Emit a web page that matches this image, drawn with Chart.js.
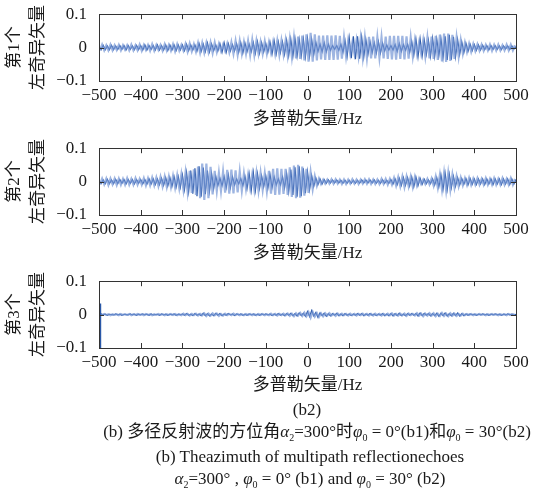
<!DOCTYPE html>
<html>
<head>
<meta charset="utf-8">
<script src="https://cdn.jsdelivr.net/npm/chart.js@4.4.1/dist/chart.umd.min.js"></script>
<style>
  html, body { margin:0; padding:0; background:#fff; }
  body { width:544px; height:494px; position:relative; overflow:hidden;
         font-family:"Liberation Serif","Noto Sans CJK SC",serif; color:#1a1a1a; }
  canvas { position:absolute; left:0; }
  .cap { position:absolute; width:544px; text-align:center; font-size:17px; line-height:20px; white-space:nowrap; }
  .cap i { font-style:italic; }
  .cap sub { font-size:10px; vertical-align:-4px; line-height:0; }
</style>
</head>
<body>
<canvas id="c1" width="544" height="134" style="top:0px"></canvas>
<canvas id="c2" width="544" height="134" style="top:134px"></canvas>
<canvas id="c3" width="544" height="133" style="top:267px"></canvas>
<div class="cap" style="top:400px;left:35px">(b2)</div>
<div class="cap" style="top:422px;left:45px">(b) 多径反射波的方位角<i>α</i><sub>2</sub>=300°时<i>φ</i><sub>0</sub> = 0°(b1)和<i>φ</i><sub>0</sub> = 30°(b2)</div>
<div class="cap" style="top:447px;left:38px">(b) Theazimuth of multipath reflectionechoes</div>
<div class="cap" style="top:469px;left:38px"><i>α</i><sub>2</sub>=300° , <i>φ</i><sub>0</sub> = 0° (b1) and <i>φ</i><sub>0</sub> = 30° (b2)</div>
<script>
// ---- data (values in units of 1e-3), sampled every 5 Hz ----
const FREQ_MIN = -500, FREQ_MAX = 500, FREQ_STEP = 5;
const DARK_START = -500, LIGHT_START = -497.5;
const UNIT = 0.001;
const xTicks = [-500,-400,-300,-200,-100,0,100,200,300,400,500];
const yTicks = [-0.1, 0, 0.1];
const yTitles = [['第1个','左奇异矢量'],['第2个','左奇异矢量'],['第3个','左奇异矢量']];
const xTitle = '多普勒矢量/Hz';

const p1Dark = [
 5,-6,7,-6,5,-6,7,-6,5,-6, 6,-5,6,-7,6,-5,5,-6,7,-6, 6,-7,8,-7,6,-5,6,-7,8,-7,
 6,-7,8,-9,8,-7,8,-9,8,-7, 8,-9,10,-9,8,-7,8,-10,12,-11, 10,-12,14,-13,11,-9,8,-10,12,-14,
 15,-14,12,-10,9,-10,12,-14,15,-16, 14,-12,10,-12,15,-17,18,-17,15,-13, 12,-14,17,-19,20,-19,17,-15,17,-20,
 22,-24,25,-26,27,-26,25,-24,26,-28, 28,-26,24,-20,16,-12,10,-12,14,-12, 10,-8,6,-5,6,-8,10,-14,20,-26,
 30,-32,34,-35,34,-33,31,-28,24,-20, 17,-15,14,-16,18,-16,13,-10,8,-7, 6,-7,9,-11,12,-11,9,-8,10,-14,
 18,-22,26,-28,27,-25,22,-20,22,-26, 28,-27,25,-24,26,-30,34,-37,38,-36, 32,-28,24,-20,17,-15,13,-11,10,-9,
 9,-8,8,-7,7,-6,6,-7,6,-5, 6,-5,5,-6,5,-4,5,-6,5,-4, 3];
const p1Light = [
 -8,9,-8,7,-8,9,-8,7,-7,8, -8,7,-6,7,-8,9,-8,7,-8,9, -9,8,-7,8,-9,10,-9,8,-7,8,
 -9,10,-9,8,-9,10,-11,10,-9,8, -9,11,-12,12,-11,10,-12,14,-15,14, -15,14,-13,15,-16,15,-13,11,-10,9,
 -10,12,-14,16,-18,20,-21,20,-18,17, -18,20,-22,23,-22,20,-18,17,-18,19, -18,16,-15,17,-19,21,-22,21,-20,22,
 -24,26,-28,30,-32,33,-34,36,-38,40, -42,44,-42,40,-38,36,-35,36,-37,37, -37,36,-37,37,-36,35,-33,30,-26,22,
 -18,16,-18,22,-26,28,-30,30,-31,32, -32,33,-32,31,-30,31,-32,33,-34,35, -35,35,-36,35,-34,35,-35,34,-33,30,
 -26,22,-18,16,-18,22,-26,30,-32,33, -34,35,-37,39,-41,42,-43,42,-40,38, -34,30,-26,22,-18,15,-13,12,-12,11,
 -10,10,-9,9,-9,8,-8,9,-9,8, -8,9,-8,7,-8,9,-8,9,-8,7];

const p2Dark = [
 5,-6,5,-6,7,-6,5,-6,7,-6, 6,-5,6,-7,6,-5,6,-7,6,-5, 6,-7,6,-7,8,-7,8,-9,8,-9,
 10,-11,12,-13,12,-14,15,-16,15,-17, 20,-24,27,-30,33,-36,40,-44,46,-45, 42,-38,33,-28,24,-20,16,-12,10,-12,
 15,-18,20,-18,14,-10,8,-7,9,-12, 16,-20,24,-27,28,-27,24,-20,17,-15, 17,-20,22,-18,14,-10,8,-10,14,-18,
 24,-30,36,-40,43,-45,46,-44,40,-35, 30,-24,18,-14,11,-9,8,-7,6,-5, 5,-4,5,-4,5,-4,4,-5,4,-5,
 4,-5,4,-5,4,-5,5,-4,5,-4, 5,-4,5,-5,4,-5,6,-5,4,-5, 6,-7,8,-9,10,-11,12,-11,12,-13,
 14,-15,14,-12,10,-8,7,-6,5,-6, 8,-10,12,-16,20,-23,25,-24,22,-18, 16,-14,12,-10,9,-8,9,-10,9,-8,
 8,-9,8,-7,8,-9,8,-7,8,-9, 8,-7,8,-9,8,-7,8,-9,8,-7, 6];
const p2Light = [
 -8,9,-8,9,-10,9,-8,9,-10,9, -9,8,-9,10,-9,8,-9,10,-9,8, -9,10,-11,10,-11,12,-11,12,-13,14,
 -14,15,-16,15,-16,17,-18,19,-20,22, -24,27,-30,32,-34,37,-40,45,-50,54, -55,54,-50,44,-38,32,-28,26,-28,30,
 -33,35,-36,36,-35,34,-32,30,-27,24, -22,20,-20,22,-24,26,-27,26,-24,25, -28,32,-36,38,-40,40,-39,38,-37,38,
 -40,43,-46,48,-50,50,-48,45,-42,38, -34,28,-22,16,-12,9,-7,6,-6,6, -6,7,-6,7,-6,6,-7,6,-7,6,
 -6,7,-6,6,-7,6,-6,7,-6,7, -7,6,-7,6,-7,8,-7,8,-9,8, -9,11,-12,13,-14,15,-16,15,-14,15,
 -16,14,-12,9,-7,6,-7,8,-8,9, -12,15,-18,21,-24,26,-27,26,-24,21, -18,16,-14,12,-11,10,-10,11,-10,9,
 -9,10,-9,8,-9,10,-9,8,-9,10, -9,8,-9,10,-9,8,-9,10,-9,8];

const p3Dark = [
 0,2,-1,1,-2,1,0,-1,2,-1, 1,-2,1,0,-1,2,-1,1,-2,1, -1,2,-1,1,-2,2,-1,0,1,-2,
 2,-1,1,-2,1,-1,2,-2,1,-1, 2,-2,3,-2,1,-3,3,-2,2,-3, 4,-3,3,-4,2,-3,4,-2,3,-3,
 2,-2,3,-1,2,-3,2,-1,2,-2, 1,-2,2,-1,2,-2,1,-2,2,-1, 2,-1,2,-3,2,-2,3,-2,2,-3,
 3,-2,4,-3,3,-4,5,-3,4,-5, 9,-6,12,-4,6,-8,5,-3,4,-5, 3,-4,3,-2,4,-3,2,-3,3,-2,
 2,-3,2,-2,3,-2,3,-3,2,-2, 3,-2,2,-3,2,-2,3,-3,2,-3, 3,-4,3,-3,4,-3,2,-3,3,-2,
 3,-2,3,-4,5,-3,4,-2,3,-4, 3,-3,4,-5,4,-3,5,-4,3,-4, 4,-3,5,-4,3,-3,2,-2,2,-1,
 1,-2,1,-1,2,-1,1,-2,1,-1, 2,-1,1,-2,1,-1,2,-1,1,-2, 1];
const p3Light = [
 1,-1,2,-1,1,-2,1,-1,1,-2, 2,-1,1,-1,2,-2,1,-1,2,-1, 1,-2,2,-1,1,-2,1,-1,2,-1,
 1,-2,1,-1,2,-1,2,-2,1,-2, 3,-2,2,-3,2,-2,3,-3,2,-2, 4,-4,3,-3,4,-2,3,-4,2,-3,
 3,-2,2,-2,3,-1,2,-2,1,-2, 2,-1,2,-2,1,-2,2,-1,2,-2, 1,-2,3,-2,2,-3,2,-2,3,-2,
 3,-4,3,-5,4,-3,5,-4,6,-5, 7,-9,8,-6,5,-7,4,-5,4,-3, 4,-3,2,-4,3,-2,3,-2,2,-3,
 3,-2,2,-3,2,-2,3,-2,2,-3, 2,-3,3,-2,2,-3,2,-2,3,-2, 4,-3,2,-3,3,-2,3,-4,3,-2,
 2,-3,4,-3,3,-5,3,-3,4,-3, 4,-5,3,-4,5,-4,3,-5,4,-3, 3,-4,2,-3,3,-2,2,-1,2,-2,
 1,-1,2,-1,1,-2,1,-1,2,-1, 1,-2,1,-1,1,-2,2,-1,1,-1];
// start-of-record transient in the 3rd vector (Hz, value)
const p3SpikeX = [-497, -496.5];
const p3SpikeY = [0.033, -0.12];

// ---- styling ----
const DARK = '#2a58a8';
const LIGHT = 'rgba(120,152,214,0.72)';
const TEXT = '#1a1a1a';
const AXIS = '#333333';
const FONT = {family:'"Liberation Serif","Noto Sans CJK SC",serif', size:17};

function toPts(vals, start){ return vals.map((v,i)=>({x:start + i*FREQ_STEP, y:v*UNIT})); }
function fmt(v){ const s = Math.abs(v) < 1e-9 ? '0' : String(+v.toFixed(3)); return s.replace('-', '\u2212'); }

const frame = {
  id:'frame',
  afterDatasetsDraw(chart){
    const {ctx, chartArea:a, scales:{x, y}} = chart;
    ctx.save();
    ctx.strokeStyle = AXIS; ctx.lineWidth = 1;
    ctx.beginPath();
    xTicks.forEach(t=>{
      const px = Math.round(x.getPixelForValue(t)) + 0.5;
      ctx.moveTo(px, a.bottom); ctx.lineTo(px, a.bottom - 5);
      ctx.moveTo(px, a.top); ctx.lineTo(px, a.top + 5);
    });
    const py = Math.round(y.getPixelForValue(0)) + 0.5;
    ctx.moveTo(a.left, py); ctx.lineTo(a.left + 5, py);
    ctx.moveTo(a.right, py); ctx.lineTo(a.right - 5, py);
    ctx.stroke();
    ctx.strokeRect(Math.round(a.left)+0.5, Math.round(a.top)+0.5, Math.round(a.right-a.left), Math.round(a.bottom-a.top));
    ctx.restore();
  }
};

function makeChart(id, darkVals, lightVals, yTitle, xAxisH, extra){
  const datasets = [];
  if (extra) datasets.push({data: extra.x.map((v,i)=>({x:v, y:extra.y[i]})), borderColor:DARK, borderWidth:1.5, pointRadius:0, tension:0});
  datasets.push({data: toPts(lightVals, LIGHT_START), borderColor:LIGHT, borderWidth:2.2, pointRadius:0, tension:0});
  datasets.push({data: toPts(darkVals, DARK_START), borderColor:DARK, borderWidth:1.2, pointRadius:0, tension:0});
  return new Chart(document.getElementById(id), {
    type:'line',
    data:{datasets},
    plugins:[frame],
    options:{
      responsive:false, animation:false, devicePixelRatio:1,
      layout:{padding:{left:0, right:28, top:0, bottom:0}},
      plugins:{legend:{display:false}, tooltip:{enabled:false}},
      scales:{
        x:{type:'linear', min:FREQ_MIN, max:FREQ_MAX,
           afterBuildTicks: s => { s.ticks = xTicks.map(v=>({value:v})); },
           ticks:{padding:4, font:FONT, color:TEXT, maxRotation:0, autoSkip:false, callback:v=>fmt(v)},
           grid:{display:false, drawTicks:false}, border:{display:false},
           title:{display:true, text:xTitle, font:FONT, color:TEXT, padding:{top:0, bottom:4}},
           afterFit: s => { s.height = xAxisH; }},
        y:{type:'linear', min:-0.1, max:0.1,
           afterBuildTicks: s => { s.ticks = yTicks.map(v=>({value:v})); },
           ticks:{padding:4, font:FONT, color:TEXT, callback:v=>fmt(v)},
           grid:{display:false, drawTicks:true, tickLength:8}, border:{display:false},
           title:{display:true, text:yTitle, font:{...FONT, lineHeight:1.4}, color:TEXT, padding:{top:3, bottom:0}},
           afterFit: s => { s.width = 99; }}
      }
    }
  });
}

makeChart('c1', p1Dark, p1Light, yTitles[0], 53);
makeChart('c2', p2Dark, p2Light, yTitles[1], 53);
makeChart('c3', p3Dark, p3Light, yTitles[2], 52, {x:p3SpikeX, y:p3SpikeY});
</script>
</body>
</html>
